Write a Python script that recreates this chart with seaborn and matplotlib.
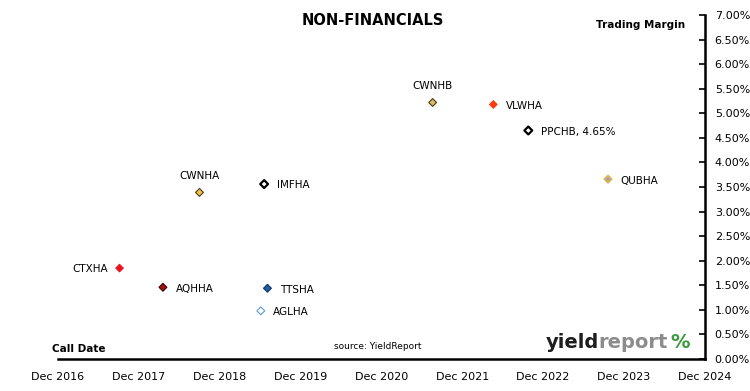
import pandas as pd
import numpy as np
import matplotlib
matplotlib.use("Agg")
import matplotlib.pyplot as plt
import matplotlib.dates as mdates
from matplotlib.ticker import FuncFormatter, MultipleLocator
import seaborn as sns

# -----------------------------
# Data
# -----------------------------
names = ["CTXHA", "AQHHA", "CWNHA", "AGLHA", "IMFHA", "TTSHA",
         "CWNHB", "VLWHA", "PPCHB", "QUBHA"]
call_dates = ["2017-09-05", "2018-03-20", "2018-09-01", "2019-06-05", "2019-06-20",
              "2019-07-05", "2021-07-20", "2022-04-20", "2022-09-25", "2023-09-20"]
margins = [1.85, 1.46, 3.39, 0.98, 3.56, 1.44, 5.22, 5.18, 4.65, 3.66]
labels = ["CTXHA", "AQHHA", "CWNHA", "AGLHA", "IMFHA", "TTSHA",
          "CWNHB", "VLWHA", "PPCHB, 4.65%", "QUBHA"]
label_side = ["left", "right", "above", "right", "right", "right",
              "above", "right", "right", "right"]

fill_colors = ["#E8141B", "#A50F15", "#F2C14E", "#FFFFFF", "#FFFFFF", "#1F5FA8",
               "#D9B96A", "#FF3B0F", "#FFFFFF", "#A6A6A6"]
edge_colors = ["#E8141B", "#3A0000", "#4A3A10", "#5B9BD5", "#000000", "#10325A",
               "#4A3A10", "#FF3B0F", "#000000", "#E8B84A"]
edge_widths = [0.6, 0.8, 0.8, 0.8, 1.6, 0.8, 0.8, 0.6, 1.6, 1.0]

year_ticks = ["2016-12-01", "2017-12-01", "2018-12-01", "2019-12-01", "2020-12-01",
              "2021-12-01", "2022-12-01", "2023-12-01", "2024-12-01"]

df = pd.DataFrame({
    "name": names,
    "call_date": pd.to_datetime(call_dates),
    "margin": margins,
})

# -----------------------------
# Plot
# -----------------------------
sns.set_style("white")
plt.rcParams["font.family"] = ["DejaVu Sans"]

fig = plt.figure(figsize=(7.5, 3.91), dpi=100)
ax = fig.add_axes([0.0773, 0.0818, 0.8627, 0.8798])

sns.scatterplot(
    data=df, x="call_date", y="margin", hue="name",
    palette=dict(zip(names, fill_colors)), marker="D", s=16,
    legend=False, ax=ax, zorder=3
)
coll = ax.collections[0]
coll.set_edgecolor(edge_colors)
coll.set_linewidth(edge_widths)

for d, m, lab, side in zip(df["call_date"], margins, labels, label_side):
    if side == "right":
        off, ha, va = (9, -1), "left", "center"
    elif side == "left":
        off, ha, va = (-8, -1), "right", "center"
    else:
        off, ha, va = (0, 8), "center", "bottom"
    ax.annotate(lab, (mdates.date2num(d), m), xytext=off, textcoords="offset points",
                ha=ha, va=va, fontsize=7.5, color="black")

# axes
ax.set_xlim(pd.Timestamp(year_ticks[0]), pd.Timestamp(year_ticks[-1]))
ax.set_ylim(0, 7)
ax.set_xticks(pd.to_datetime(year_ticks))
ax.xaxis.set_major_formatter(mdates.DateFormatter("%b %Y"))
ax.yaxis.set_major_locator(MultipleLocator(0.5))
ax.yaxis.set_major_formatter(FuncFormatter(lambda v, p: f"{v:.2f}%"))
ax.yaxis.tick_right()
ax.set_xlabel("")
ax.set_ylabel("")

for s in ["top", "left"]:
    ax.spines[s].set_visible(False)
for s in ["bottom", "right"]:
    ax.spines[s].set_color("black")
    ax.spines[s].set_linewidth(1.8)

ax.tick_params(axis="y", direction="in", length=4, width=1.2, labelsize=8,
               pad=7, colors="black", labelcolor="black")
ax.tick_params(axis="x", direction="inout", length=6, width=1.2, labelsize=8,
               pad=6, colors="black", labelcolor="black")

# titles and notes
fig.text(0.497, 0.948, "NON-FINANCIALS", ha="center", va="center",
         fontsize=10.5, fontweight="bold", color="black")
fig.text(0.913, 0.937, "Trading Margin", ha="right", va="center",
         fontsize=7.5, fontweight="bold", color="black")
fig.text(0.069, 0.107, "Call Date", ha="left", va="center",
         fontsize=7.5, fontweight="bold", color="black")
fig.text(0.504, 0.114, "source: YieldReport", ha="center", va="center",
         fontsize=6.5, color="black")

# logo
t1 = fig.text(0.727, 0.124, "yield", ha="left", va="center",
              fontsize=14, fontweight="bold", color="#1E1E1E")
t2 = ax.annotate("report", xy=(1, 0), xycoords=t1, va="bottom", ha="left",
                 fontsize=14, fontweight="bold", color="#8C8C8C")
t3 = ax.annotate("%", xy=(1.04, 0), xycoords=t2, va="bottom", ha="left",
                 fontsize=14, fontweight="bold", color="#3C9A3C")

fig.savefig("out.png", dpi=100)
